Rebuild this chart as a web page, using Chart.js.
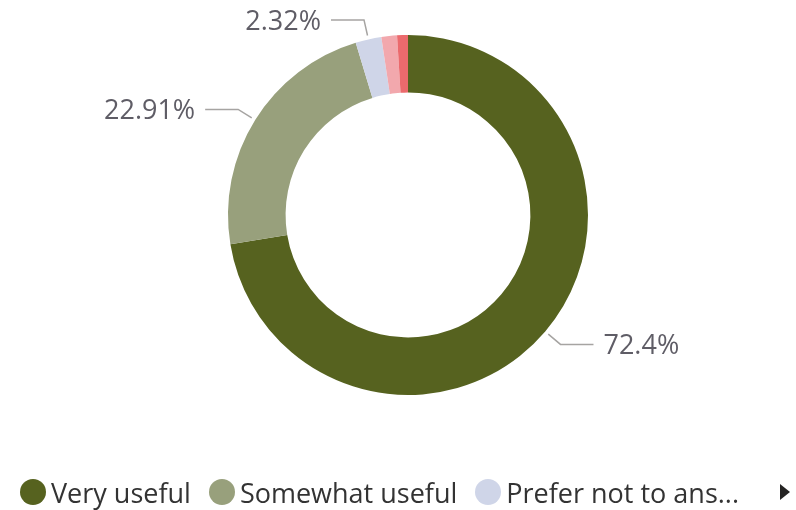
<!DOCTYPE html>
<html>
<head>
<meta charset="utf-8">
<script src="https://cdn.jsdelivr.net/npm/chart.js@4.4.1/dist/chart.umd.min.js"></script>
<style>
    html, body { margin: 0; padding: 0; background: #fff; }
    #wrap { position: relative; width: 796px; height: 510px; overflow: hidden; }
    #chart { position: absolute; left: 0; top: 0; }
    #legend {
        position: absolute; left: 20px; top: 476px; height: 32px;
        display: flex; align-items: center;
        font-family: "Open Sans", sans-serif; font-size: 27px; color: #333;
        white-space: nowrap;
    }
    .leg-item { display: flex; align-items: center; margin-right: 18px; }
    .leg-dot { width: 26px; height: 26px; border-radius: 50%; margin-right: 5px; }
    #leg-arrow {
        position: absolute; left: 780px; top: 484px; width: 0; height: 0;
        border-top: 8px solid transparent; border-bottom: 8px solid transparent;
        border-left: 10px solid #252423;
    }
</style>
</head>
<body>
<div id="wrap">
    <canvas id="chart" width="796" height="510"></canvas>
    <div id="legend"></div>
    <div id="leg-arrow"></div>
</div>
<script>
/* ── Data ───────────────────────────────────────────────────── */

const categories = ['Very useful', 'Somewhat useful', 'Prefer not to answer', 'Not very useful', 'Not at all useful'];
const shares = [72.4, 22.91, 2.32, 1.4, 0.97];
const valueLabels = ['72.4%', '22.91%', '2.32%', '', ''];
const legendLabels = ['Very useful', 'Somewhat useful', 'Prefer not to ans...'];
const colors = ['#56621f', '#98a07c', '#cfd5e8', '#f2a8ad', '#eb6a6d'];

/* ── Leader-line labels ─────────────────────────────────────── */

const leaderLabels = {
    id: 'leaderLabels',
    afterDatasetsDraw(chart) {
        const ctx = chart.ctx;
        const meta = chart.getDatasetMeta(0);
        ctx.save();
        ctx.font = '27px "Open Sans", sans-serif';
        ctx.textBaseline = 'middle';
        meta.data.forEach((arc, i) => {
            const text = valueLabels[i];
            if (!text) return;
            const mid = (arc.startAngle + arc.endAngle) / 2;
            const r = arc.outerRadius;
            const x0 = arc.x + Math.cos(mid) * (r + 4);
            const y0 = arc.y + Math.sin(mid) * (r + 4);
            const x1 = arc.x + Math.cos(mid) * (r + 20);
            const y1 = arc.y + Math.sin(mid) * (r + 20);
            const right = Math.cos(mid) >= 0;
            const x2 = x1 + (right ? 33 : -33);

            ctx.strokeStyle = '#a6a4a2';
            ctx.lineWidth = 1.5;
            ctx.beginPath();
            ctx.moveTo(x0, y0);
            ctx.lineTo(x1, y1);
            ctx.lineTo(x2, y1);
            ctx.stroke();

            ctx.fillStyle = '#5f5d66';
            ctx.textAlign = right ? 'left' : 'right';
            ctx.fillText(text, x2 + (right ? 10 : -10), y1 + 2);
        });
        ctx.restore();
    }
};

/* ── Chart ──────────────────────────────────────────────────── */

new Chart(document.getElementById('chart'), {
    type: 'doughnut',
    data: {
        labels: categories,
        datasets: [{
            data: shares,
            backgroundColor: colors,
            borderWidth: 0,
        }]
    },
    options: {
        responsive: false,
        animation: false,
        cutout: '68%',
        layout: { padding: { top: 35, bottom: 115, left: 228, right: 208 } },
        plugins: { legend: { display: false }, tooltip: { enabled: false } },
    },
    plugins: [leaderLabels]
});

/* ── Legend ─────────────────────────────────────────────────── */

const legend = document.getElementById('legend');
legendLabels.forEach((name, i) => {
    const item = document.createElement('div');
    item.className = 'leg-item';
    item.innerHTML = '<div class="leg-dot" style="background:' + colors[i] + ';"></div><span>' + name + '</span>';
    legend.appendChild(item);
});
</script>
</body>
</html>
